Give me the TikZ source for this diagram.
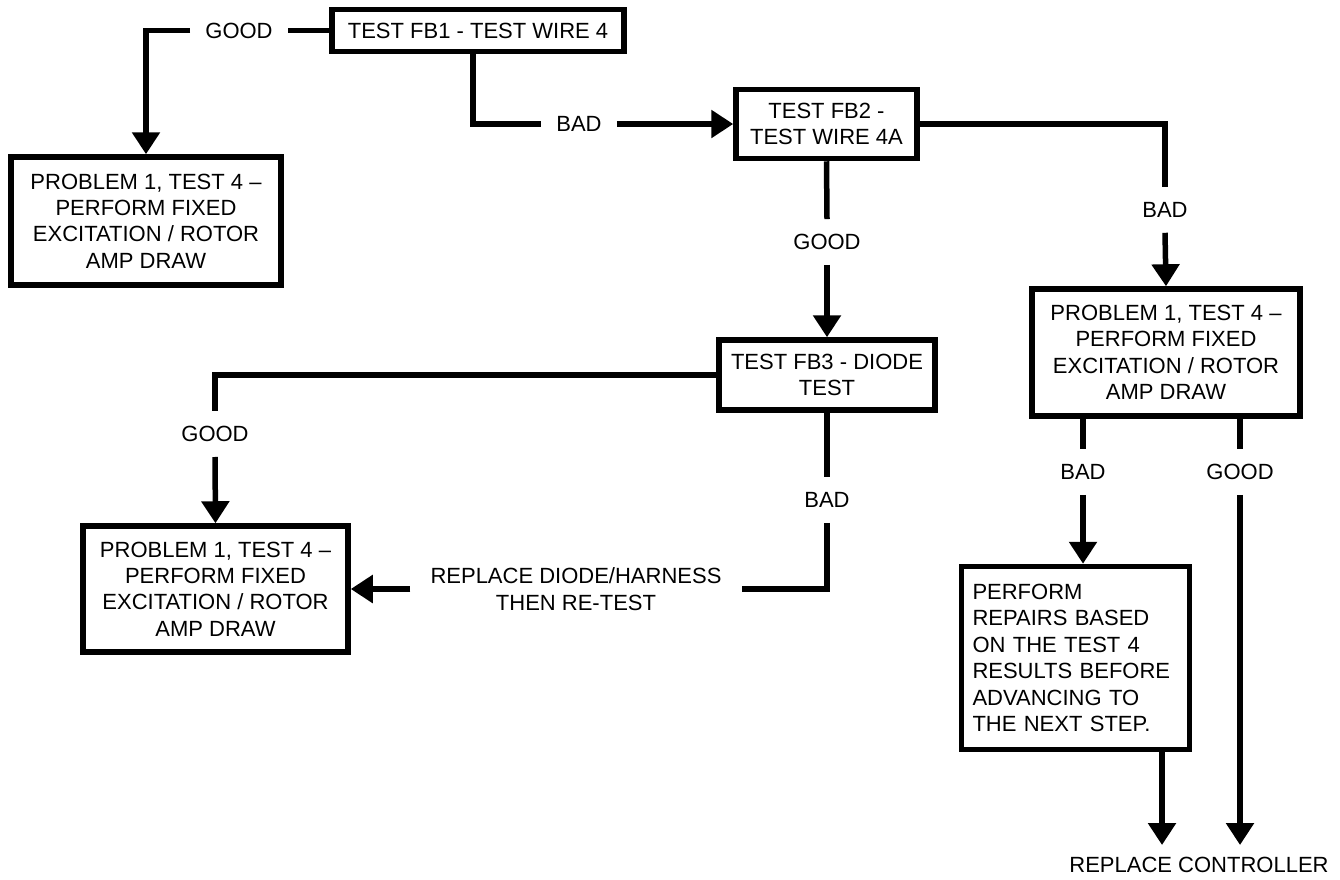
\documentclass[tikz,border=0pt]{standalone}
\usepackage{fontspec}
\setmainfont{Liberation Sans}
\usetikzlibrary{arrows.meta}
\begin{document}
\begin{tikzpicture}[x=1pt,y=-1pt,
  every node/.style={font=\fontsize{22}{26.4}\selectfont},
  box/.style={draw, line width=5.5pt, align=center, inner sep=0pt},
  lbl/.style={inner sep=15pt},
  conn/.style={line width=5.5pt},
  arr/.style={conn, -{Triangle[width=27pt,length=22pt]}}]
\useasboundingbox (0,0) rectangle (1340,879);
% boxes
\node[box, minimum width=292pt, minimum height=42pt] (fb1) at (478,30.5) {TEST FB1 - TEST WIRE 4};
\node[box, minimum width=270pt, minimum height=128pt] (p1a) at (146,221) {PROBLEM 1, TEST 4 –\\PERFORM FIXED\\EXCITATION / ROTOR\\AMP DRAW};
\node[box, minimum width=181pt, minimum height=69pt] (fb2) at (826.5,124) {TEST FB2 -\\TEST WIRE 4A};
\node[box, minimum width=216pt, minimum height=70pt] (fb3) at (827,375) {TEST FB3 - DIODE\\TEST};
\node[box, minimum width=268pt, minimum height=127pt] (p1r) at (1166,352.5) {PROBLEM 1, TEST 4 –\\PERFORM FIXED\\EXCITATION / ROTOR\\AMP DRAW};
\node[box, minimum width=265pt, minimum height=126pt] (p1b) at (215.5,589) {PROBLEM 1, TEST 4 –\\PERFORM FIXED\\EXCITATION / ROTOR\\AMP DRAW};
\node[box, align=left, text width=206pt, minimum width=228pt, minimum height=183pt] (rep) at (1075.5,658) {PERFORM\\REPAIRS BASED\\ON THE TEST 4\\RESULTS BEFORE\\ADVANCING TO\\THE NEXT STEP.};
% labels
\node[lbl] (good1) at (239,30.5) {GOOD};
\node[lbl] (bad1) at (579,124) {BAD};
\node[lbl] (bad2) at (1165,210) {BAD};
\node[lbl] (good2) at (827,242) {GOOD};
\node[lbl] (good3) at (215,434) {GOOD};
\node[lbl] (bad3) at (827,500) {BAD};
\node[lbl, align=center, inner xsep=20pt] (repl) at (576,589) {REPLACE DIODE/HARNESS\\THEN RE-TEST};
\node[lbl] (bad4) at (1083,472) {BAD};
\node[lbl] (good4) at (1240,472) {GOOD};
\node[inner xsep=0pt, inner ysep=12pt] (ctrl) at (1199,865) {REPLACE CONTROLLER};
% connectors
\draw[conn] (fb1.west) -- (good1.east);
\draw[arr] (good1.west) -| (p1a.north);
\draw[conn] ([xshift=-5pt]fb1.south) |- (bad1.west);
\draw[arr] (bad1.east) -- (fb2.west);
\draw[conn] (fb2.east) -| (bad2.north);
\draw[arr] (bad2.south) -- (p1r.north);
\draw[conn] (fb2.south) -- (good2.north);
\draw[arr] (good2.south) -- (fb3.north);
\draw[conn] (fb3.west) -| (good3.north);
\draw[arr] (good3.south) -- (p1b.north);
\draw[conn] (fb3.south) -- (bad3.north);
\draw[conn] (bad3.south) |- (repl.east);
\draw[arr] (repl.west) -- (p1b.east);
\draw[conn] (p1r.south -| bad4) -- (bad4.north);
\draw[arr] (bad4.south) -- (bad4.south |- rep.north);
\draw[conn] (p1r.south -| good4) -- (good4.north);
\draw[arr] (good4.south) -- (good4.south |- ctrl.north);
\draw[arr] ([xshift=86.5pt]rep.south) -- ([xshift=86.5pt]rep.south |- ctrl.north);
\end{tikzpicture}
\end{document}
